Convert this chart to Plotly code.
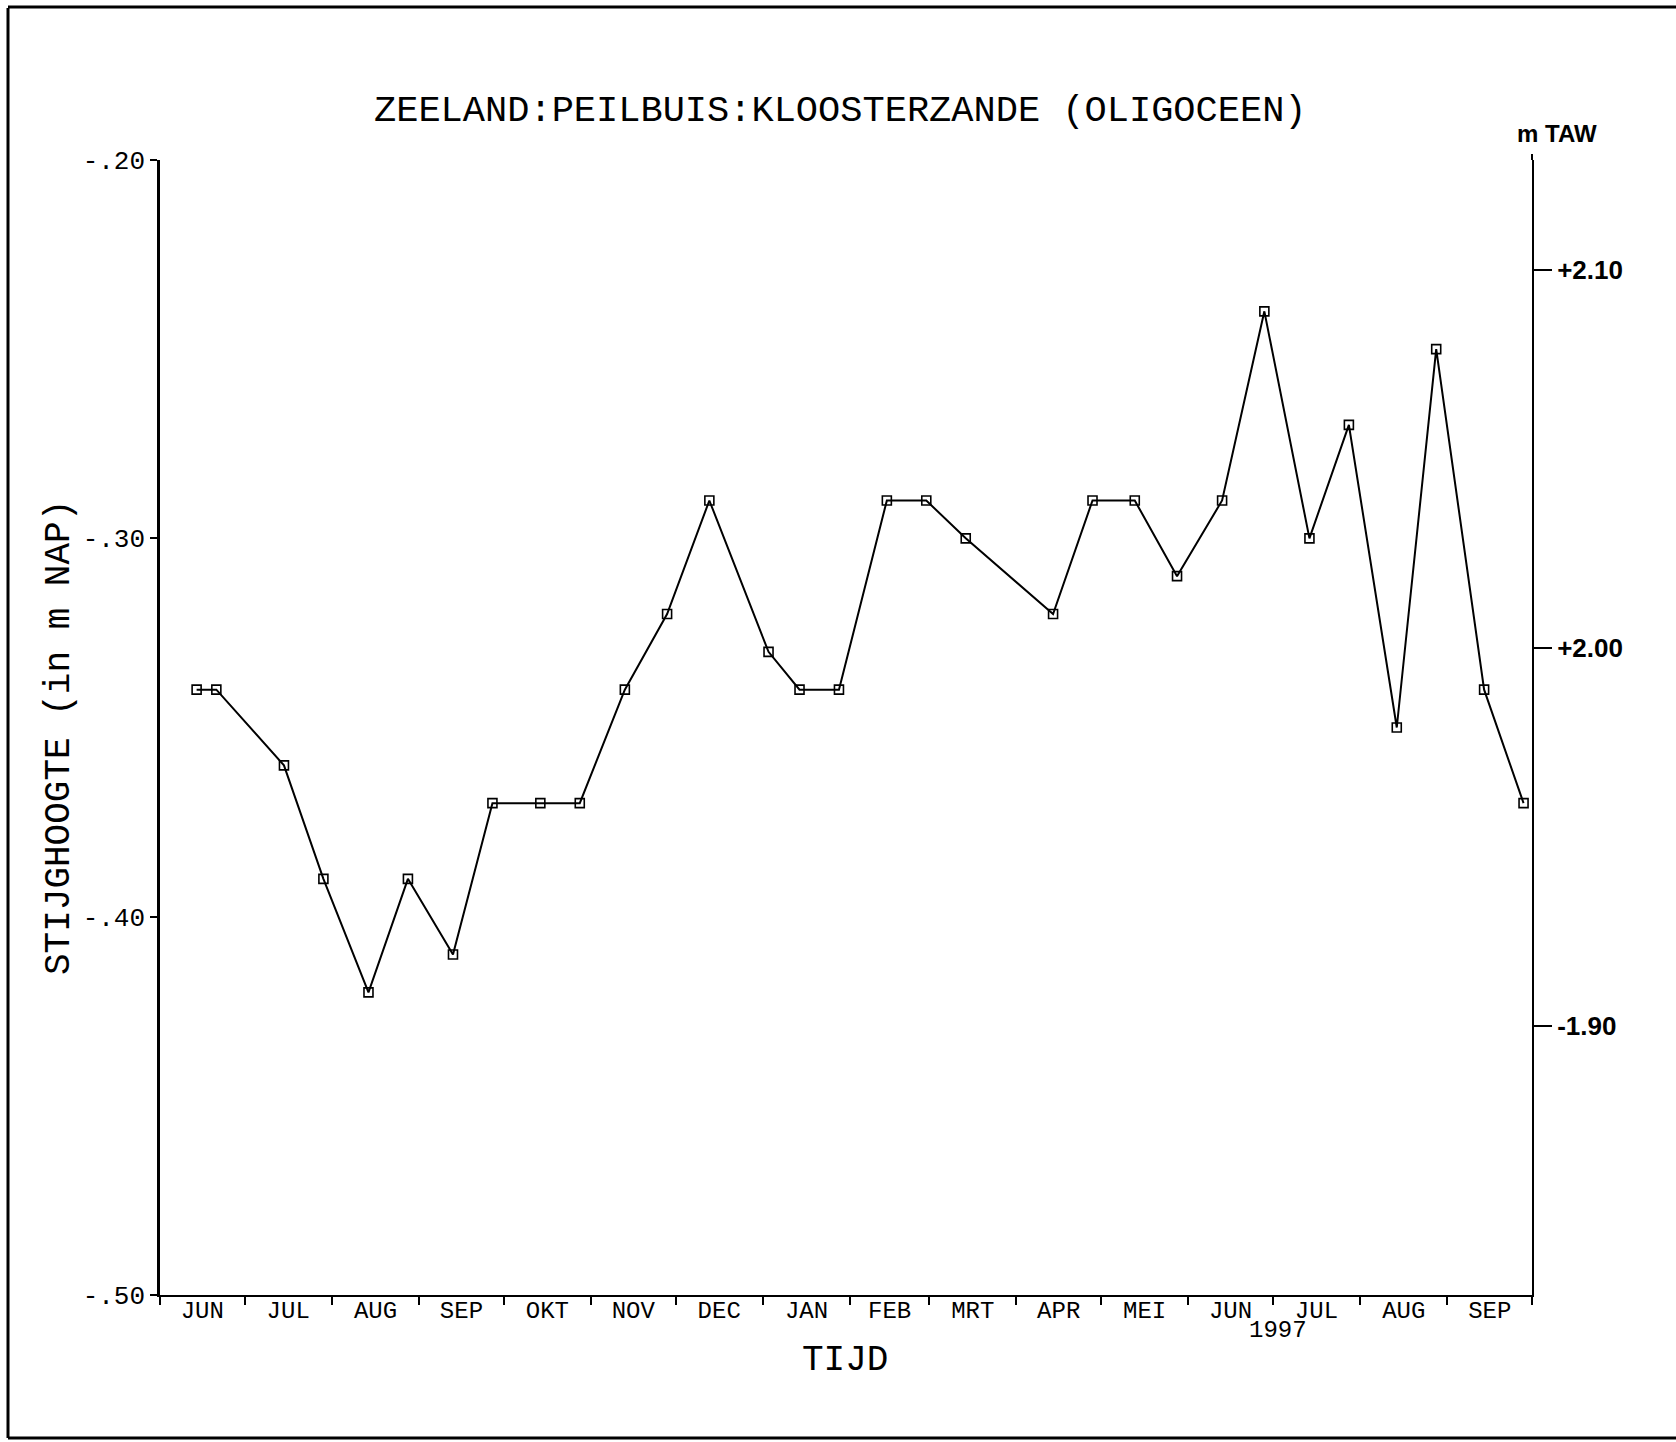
import pandas as pd
import plotly.graph_objects as go

# Measurement dates and groundwater head (m NAP)
dates = [
    "1996-06-14", "1996-06-21", "1996-07-15", "1996-07-29", "1996-08-14",
    "1996-08-28", "1996-09-13", "1996-09-27", "1996-10-14", "1996-10-28",
    "1996-11-13", "1996-11-28", "1996-12-13", "1997-01-03", "1997-01-14",
    "1997-01-28", "1997-02-14", "1997-02-28", "1997-03-14", "1997-04-14",
    "1997-04-28", "1997-05-13", "1997-05-28", "1997-06-13", "1997-06-28",
    "1997-07-14", "1997-07-28", "1997-08-14", "1997-08-28", "1997-09-14",
    "1997-09-28",
]
head_nap = [
    -0.34, -0.34, -0.36, -0.39, -0.42,
    -0.39, -0.41, -0.37, -0.37, -0.37,
    -0.34, -0.32, -0.29, -0.33, -0.34,
    -0.34, -0.29, -0.29, -0.30, -0.32,
    -0.29, -0.29, -0.31, -0.29, -0.24,
    -0.30, -0.27, -0.35, -0.25, -0.34,
    -0.37,
]

# Month labels (Dutch) for Jun 1996 .. Sep 1997
month_labels = ["JUN", "JUL", "AUG", "SEP", "OKT", "NOV", "DEC", "JAN",
                "FEB", "MRT", "APR", "MEI", "JUN", "JUL", "AUG", "SEP"]

# Left axis ticks (m NAP)
nap_ticks = [-0.50, -0.40, -0.30, -0.20]
nap_ticktext = ["-.50", "-.40", "-.30", "-.20"]

# Right axis ticks (m TAW)
taw_ticks = [1.90, 2.00, 2.10]
taw_ticktext = ["-1.90", "+2.00", "+2.10"]
taw_offset = 2.329  # m TAW = m NAP + offset

nap_range = [-0.50, -0.20]

month_starts = pd.date_range("1996-06-01", "1997-10-01", freq="MS")
month_mids = [a + (b - a) / 2 for a, b in zip(month_starts[:-1], month_starts[1:])]

MONO = "Liberation Mono, DejaVu Sans Mono, monospace"
SANS = "Liberation Sans, Arial, sans-serif"

fig = go.Figure()

fig.add_trace(go.Scatter(
    x=dates, y=head_nap, mode="lines+markers",
    line=dict(color="black", width=2),
    marker=dict(symbol="square-open", size=9, color="black",
                line=dict(width=1.6, color="black")),
    showlegend=False, hoverinfo="x+y",
))

# placeholder so the TAW axis is drawn
fig.add_trace(go.Scatter(x=[None], y=[None], yaxis="y2", showlegend=False,
                         hoverinfo="skip"))

W, H = 1676, 1442
L, R, T, B = 160, 144, 160, 147
pw, ph = W - L - R, H - T - B


def px_x(px):
    return (px - L) / pw


def px_y(py):
    return (H - B - py) / ph


fig.update_layout(
    width=W, height=H,
    margin=dict(l=L, r=R, t=T, b=B),
    paper_bgcolor="white", plot_bgcolor="white",
    xaxis=dict(
        type="date",
        range=[month_starts[0], month_starts[-1]],
        tickvals=month_mids, ticktext=month_labels,
        ticks="", showgrid=False, zeroline=False,
        ticklabelstandoff=-8,
        showline=True, linecolor="black", linewidth=2,
        tickfont=dict(family=MONO, size=24, color="black"),
        minor=dict(tickmode="array", tickvals=list(month_starts),
                   ticks="outside", ticklen=8, tickwidth=2,
                   tickcolor="black", showgrid=False),
    ),
    yaxis=dict(
        range=nap_range,
        tickvals=nap_ticks, ticktext=nap_ticktext,
        ticks="outside", ticklen=7, tickwidth=2, tickcolor="black",
        showgrid=False, zeroline=False,
        showline=True, linecolor="black", linewidth=2.5,
        tickfont=dict(family=MONO, size=26, color="black"),
    ),
    yaxis2=dict(
        overlaying="y", side="right",
        range=[nap_range[0] + taw_offset, nap_range[1] + taw_offset],
        tickvals=taw_ticks, ticktext=taw_ticktext,
        ticks="outside", ticklen=18, tickwidth=2, tickcolor="black",
        showgrid=False, zeroline=False,
        showline=True, linecolor="black", linewidth=2,
        tickfont=dict(family=SANS, size=26, color="black", weight="bold"),
    ),
)

annotations = [
    dict(text="ZEELAND:PEILBUIS:KLOOSTERZANDE (OLIGOCEEN)",
         x=px_x(840), y=px_y(111), xref="paper", yref="paper",
         showarrow=False, xanchor="center", yanchor="middle",
         font=dict(family=MONO, size=37, color="black")),
    dict(text="STIJGHOOGTE (in m NAP)",
         x=px_x(59), y=px_y(738), xref="paper", yref="paper",
         textangle=-90, showarrow=False, xanchor="center", yanchor="middle",
         font=dict(family=MONO, size=36, color="black")),
    dict(text="TIJD",
         x=px_x(845), y=px_y(1360), xref="paper", yref="paper",
         showarrow=False, xanchor="center", yanchor="middle",
         font=dict(family=MONO, size=36, color="black")),
    dict(text="1997",
         x="1997-07-03", y=px_y(1331), xref="x", yref="paper",
         showarrow=False, xanchor="center", yanchor="middle",
         font=dict(family=MONO, size=24, color="black")),
    dict(text="m TAW",
         x=px_x(1557), y=px_y(134), xref="paper", yref="paper",
         showarrow=False, xanchor="center", yanchor="middle",
         font=dict(family=SANS, size=24, color="black", weight="bold")),
]
fig.update_layout(annotations=annotations)

# page frame and the short extension of the TAW axis above the plot
frame = dict(color="black", width=3)
shapes = [
    dict(type="line", xref="paper", yref="paper",
         x0=px_x(8), x1=px_x(8), y0=px_y(8), y1=px_y(1438), line=frame),
    dict(type="line", xref="paper", yref="paper",
         x0=px_x(8), x1=px_x(1676), y0=px_y(7), y1=px_y(7), line=frame),
    dict(type="line", xref="paper", yref="paper",
         x0=px_x(8), x1=px_x(1676), y0=px_y(1438), y1=px_y(1438), line=frame),
    dict(type="line", xref="paper", yref="paper",
         x0=1, x1=1, y0=1, y1=px_y(154), line=dict(color="black", width=2)),
]
fig.update_layout(shapes=shapes)

fig.write_html("out.html")
